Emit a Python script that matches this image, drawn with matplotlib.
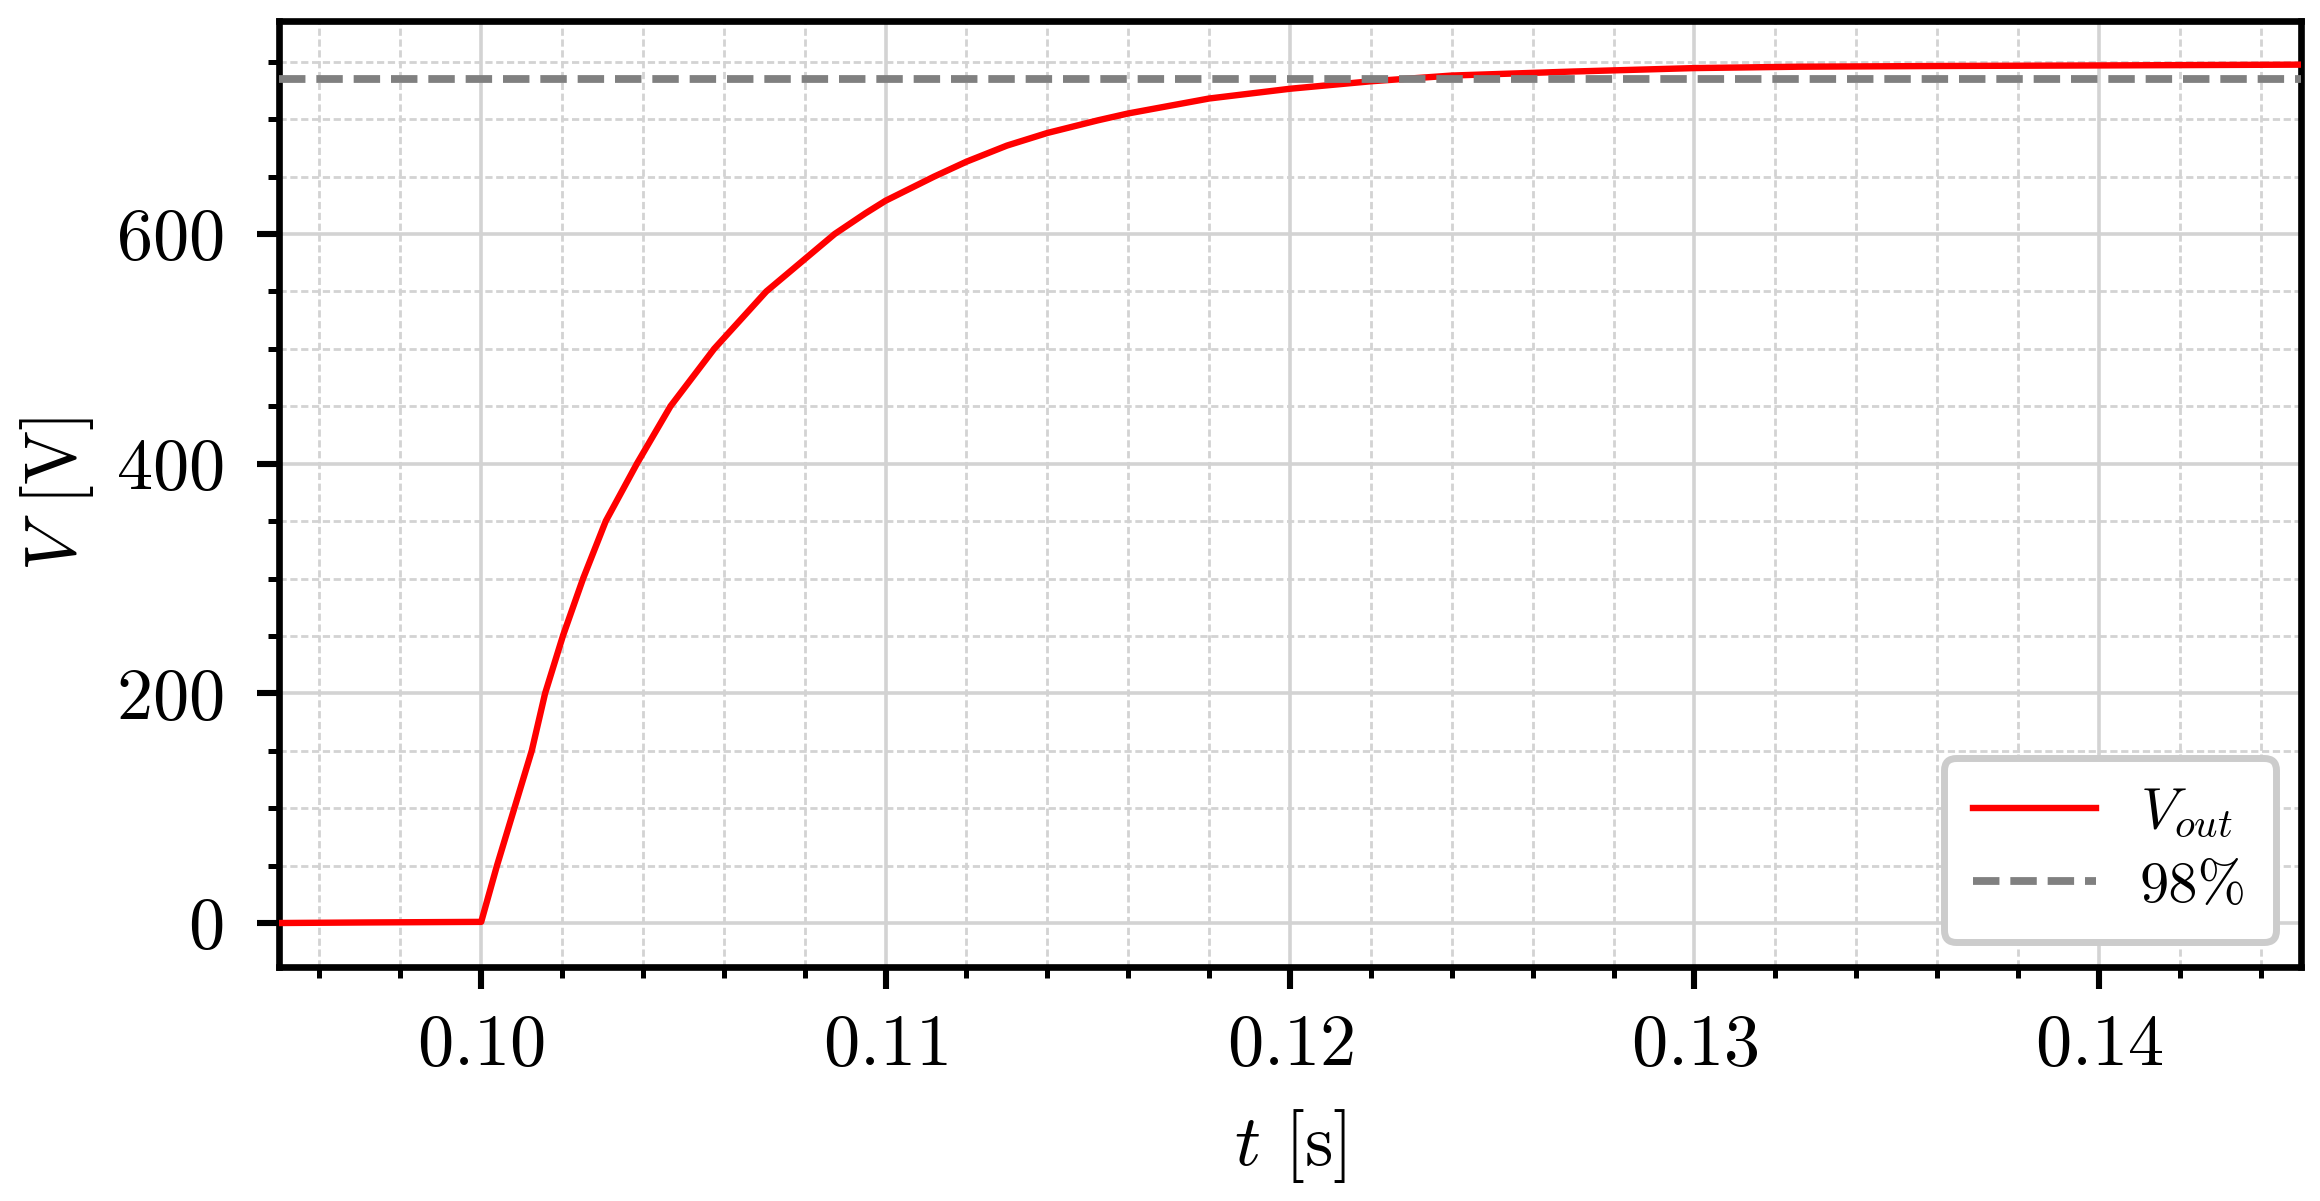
import matplotlib
matplotlib.use("Agg")
import matplotlib.pyplot as plt
from matplotlib.ticker import MultipleLocator

# ---- data ----
t_s = [0.0950, 0.0972, 0.1000, 0.10039, 0.10082, 0.10125, 0.10158, 0.10202,
       0.10252, 0.10308, 0.10385, 0.10468, 0.10576, 0.10705, 0.10874, 0.1095,
       0.1100, 0.1112, 0.1120, 0.1130, 0.1140, 0.11525, 0.1160, 0.1180,
       0.1200, 0.1220, 0.1240, 0.1270, 0.1300, 0.1326, 0.1360, 0.1400, 0.1450]
v_out = [0.0, 0.5, 1.0, 50, 100, 150, 200, 250,
         300, 350, 400, 450, 500, 550, 600, 618,
         629, 650, 663, 677, 688, 699, 705, 718,
         726.5, 733, 738, 741.5, 744.5, 745.7, 746.3, 746.8, 747.5]
v_ref = 750.0
pct = 0.98
xlim = (0.095, 0.145)
ylim = (-38.3, 785.5)
labels = [r"$V_{out}$", r"98%"]

plt.rcParams.update({
    "font.family": "serif",
    "font.serif": ["cmr10"],
    "mathtext.fontset": "cm",
    "axes.formatter.use_mathtext": True,
    "axes.unicode_minus": False,
})

fig = plt.figure(figsize=(11.6, 6.005), dpi=200)
ax = fig.add_axes([279 / 2320, 1 - 967 / 1201, (2301 - 279) / 2320, (967 - 21) / 1201])

ax.plot(t_s, v_out, color="#ff0000", lw=2.3, label=labels[0], zorder=3,
        solid_joinstyle="round")
ax.axhline(pct * v_ref, color="#808080", lw=2.8, dashes=(3.4, 1.4),
           label=labels[1], zorder=3)

ax.set_xlim(*xlim)
ax.set_ylim(*ylim)
ax.xaxis.set_major_locator(MultipleLocator(0.01))
ax.xaxis.set_minor_locator(MultipleLocator(0.002))
ax.yaxis.set_major_locator(MultipleLocator(200))
ax.yaxis.set_minor_locator(MultipleLocator(50))

ax.grid(which="major", color="#d3d3d3", lw=1.3, ls="-", zorder=0)
ax.grid(which="minor", color="#d3d3d3", lw=1.0, ls=(0, (2.6, 1.3)), zorder=0)
ax.set_axisbelow(True)

for s in ax.spines.values():
    s.set_linewidth(2.4)
ax.tick_params(which="major", direction="out", length=8, width=2.2, labelsize=26)
ax.tick_params(which="minor", direction="out", length=4, width=1.8)
ax.tick_params(axis="x", which="major", pad=9)
ax.tick_params(axis="y", which="major", pad=12)

ax.set_xlabel(r"$t$ [s]", fontsize=26, labelpad=10)
ax.set_ylabel(r"$V$ [V]", fontsize=26, labelpad=7)

leg = ax.legend(loc="lower right", fontsize=21, frameon=True, fancybox=True,
                framealpha=1.0, edgecolor="#cccccc", handlelength=2.1,
                handletextpad=0.75, borderpad=0.5, labelspacing=0.35,
                borderaxespad=0.43)
leg.get_frame().set_linewidth(2.5)

fig.savefig("out.png", dpi=200)
